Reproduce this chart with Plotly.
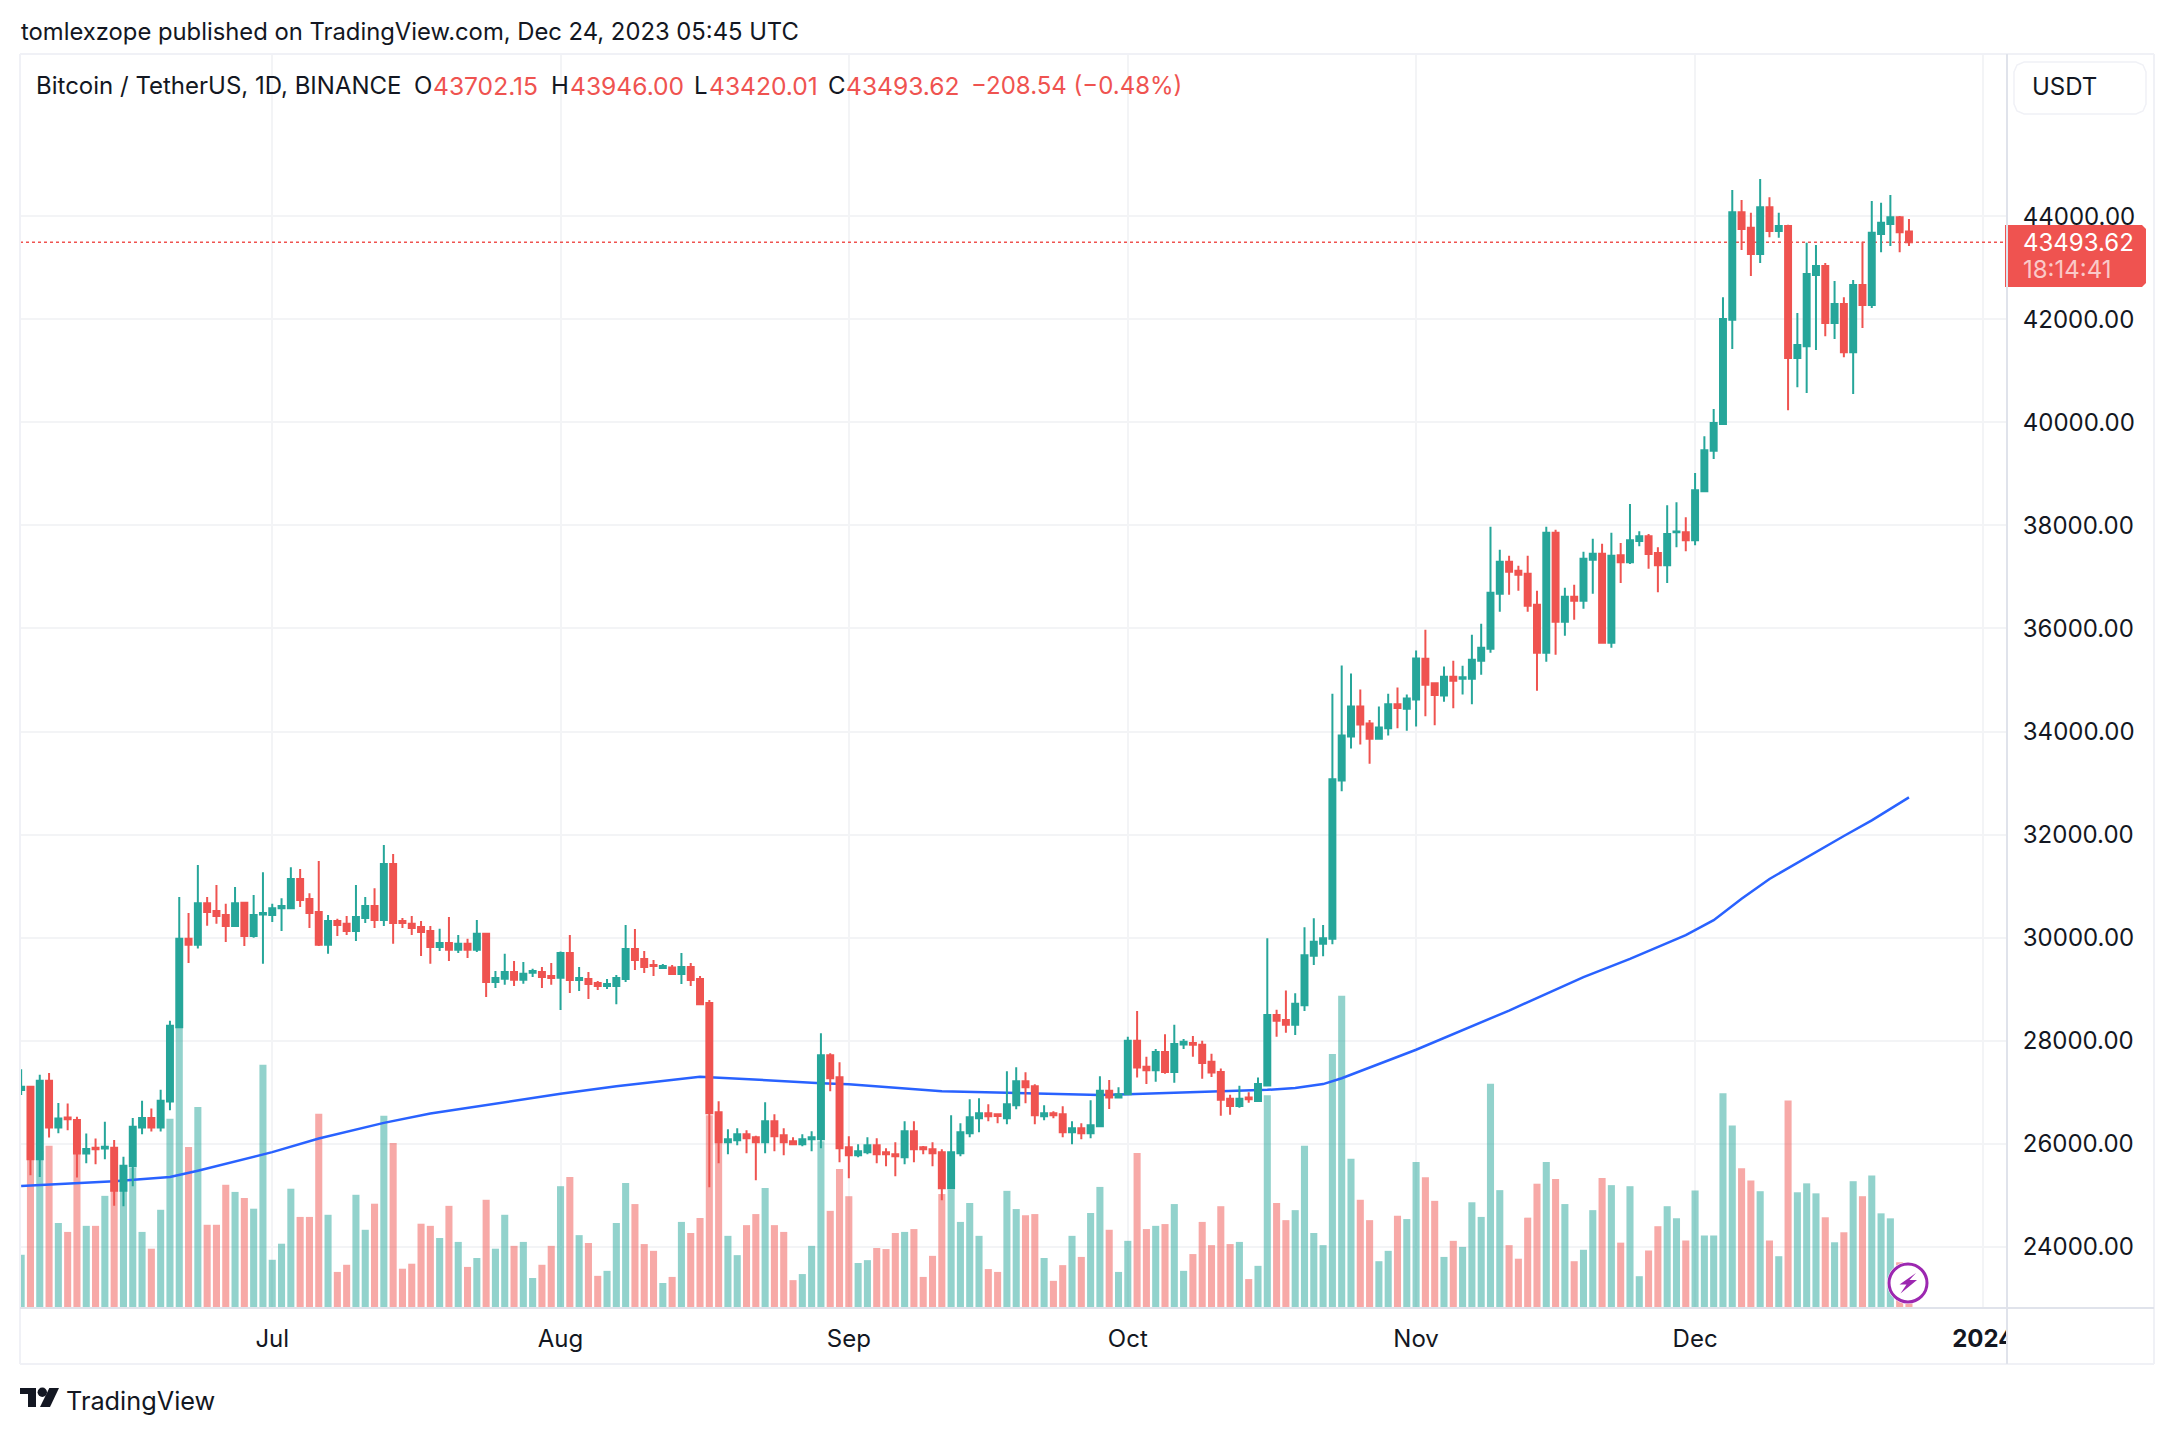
#BTCUSDT daily chart, tradingview look
import pandas as pd
import plotly.graph_objects as go

#values, one line per month (Jun 4 - Dec 24 2023)
open_ = [27045,27108,25703,27225,26319,26512,26464,25814,25924,25910,25924,25094,25565,26319,26505,26319,26824,28263,29979,29862,30671,30519,30443,30228,30678,30035,30450,
         30443,30574,30574,31142,30754,30498,29862,30325,30270,30132,30381,30616,30346,31433,30325,30270,30208,30132,29820,29896,29765,29882,29765,30076,29142,29204,29336,29184,29322,29336,29260,
         29224,29703,29178,29198,29120,29062,29062,29198,29780,29586,29470,29411,29424,29295,29431,29198,28732,26615,26033,26072,26188,26130,26033,26441,26169,26052,25994,26091,26091,27722,27295,
         25936,25781,25839,25975,25839,25800,25742,26247,25936,25897,25839,25140,25820,26208,26499,26596,26577,26499,26751,27217,27120,26538,26596,26577,26227,26305,26208,26344,27032,26902,
         26962,28000,27498,27429,27784,27395,27931,27957,27922,27593,27395,26876,26738,26902,26833,27135,28501,28406,28311,28692,29652,29885,29980,33050,33906,34485,34157,33863,34062,34528,34442,
         34624,35411,34935,34701,35065,35023,35023,35372,35605,36673,37295,37120,37062,36460,35528,37858,36130,36615,36537,37333,37450,35722,37422,37283,37699,37789,37464,37228,37866,37866,
         37713,38663,39446,39966,41990,44077,43772,43266,44174,43709,43806,41248,41477,42857,43030,41928,42295,41359,42663,42274,43654,43848,43980,43702.15]
high = [27447,27130,27343,27377,26796,26782,26526,26201,26104,26429,26077,25751,26505,26838,26685,27052,28388,30789,30478,31412,30789,31024,30658,30983,30692,30831,31273,
        30658,30768,31370,31336,30865,31488,30443,30367,30422,31024,30789,30962,31799,31626,30381,30422,30325,30228,30173,30402,30055,29979,30346,30090,29357,29689,29550,29530,29398,29433,29509,
        29735,30052,29431,29334,29159,29198,29276,30246,30169,29741,29567,29489,29470,29703,29508,29256,28790,26829,26285,26305,26266,26160,26810,26577,26305,26130,26188,26247,28149,27761,27586,
        26150,25994,26130,26111,25916,26033,26441,26441,25960,26033,25897,26557,26402,26868,26887,26771,26596,27412,27489,27392,27159,26751,26635,26732,26441,26402,26849,27315,27239,27101,
        28078,28579,27689,27844,28130,28311,28035,28095,28000,27749,27464,26953,27127,27001,27291,29989,28605,28977,28925,30205,30378,30248,34736,35281,35125,34814,34226,34485,34736,34857,34719,
        35575,35974,34952,35263,35372,35275,35877,36091,37974,37528,37411,37217,37411,36731,37974,37916,36790,36848,37489,37741,37644,37858,37657,38413,37886,37831,37574,38393,38448,38157,
        39016,39730,40257,42427,44507,44312,44063,44721,44368,44063,43830,42122,43481,43439,43092,42739,42427,42760,43501,44292,44257,44409,44000,43946]
low = [26948,25391,25357,26125,26208,26263,25350,25627,25606,25703,24803,24789,25177,26187,26243,26243,26651,28249,29509,29793,30235,30270,29917,30208,29841,30000,29495,
       30305,30132,30561,30595,30187,29841,29689,30035,30055,29938,30284,30187,30228,29882,30187,30055,29647,29495,29744,29550,29703,29606,29723,28851,29024,29087,29066,29107,29239,29024,29087,
       28596,28926,28965,28810,28984,29004,28712,29140,29373,29314,29256,29392,29275,29101,29062,28700,25159,25625,25800,25975,25820,25295,25820,25858,25781,25975,25955,25858,25916,27023,25645,
       25334,25742,25800,25625,25567,25373,25606,25645,25800,25567,24907,25120,25761,26130,26227,26441,26402,26382,26674,26790,26382,26460,26499,26130,25994,26091,26111,26344,26677,26895,
       26945,27291,27161,27204,27360,27187,27844,27689,27265,27299,26547,26565,26703,26798,26816,27118,28078,28156,28112,28579,29470,29643,29876,32842,33672,33750,33378,33845,33923,34062,34018,
       34096,34295,34122,34580,34451,34719,34528,35101,35528,36324,36654,36732,36324,34790,35353,35489,35858,36168,36382,36673,35722,35625,36881,37249,37595,37159,36701,36881,37575,37498,
       37616,38642,39287,39966,41422,43342,42836,43092,43591,43578,40236,40680,40569,41401,41671,41616,41262,40548,41831,42219,43300,43418,43300,43420.01]
close = [27108,25703,27225,26319,26492,26478,25814,25904,25897,25945,25094,25578,26332,26505,26319,26838,28291,29979,29862,30671,30498,30422,30228,30671,30035,30443,30478,
         30574,30616,31142,30734,30478,29862,30325,30249,30132,30402,30616,30346,31433,30284,30284,30187,30111,29820,29896,29765,29882,29765,30076,29142,29218,29336,29184,29301,29357,29239,29218,
         29703,29178,29217,29101,29062,29101,29217,29780,29567,29431,29450,29450,29295,29431,29178,28712,26596,26033,26091,26188,26111,26033,26441,26150,26033,25994,26091,26130,27722,27276,25917,
         25781,25858,25975,25800,25800,25761,26247,25897,25897,25820,25140,25839,26227,26518,26596,26538,26544,26771,27217,27101,26557,26596,26557,26227,26305,26208,26363,27032,26902,26962,
         28000,27481,27429,27784,27395,27939,27983,27922,27568,27386,26859,26738,26876,26867,27161,28501,28389,28311,28718,29660,29920,29989,33076,33923,34485,34139,33863,34079,34528,34459,34641,
         35419,34906,34710,35062,34987,35056,35392,35625,36693,37295,37100,37042,36440,35528,37858,36130,36615,36537,37353,37450,35722,37411,37283,37713,37789,37443,37228,37831,37880,37713,
         38684,39460,39987,42004,44077,43751,43266,44174,43709,43806,41248,41498,42877,43030,41928,42295,41359,42663,42274,43675,43869,43980,43689,43493.62]
#volume in thousand BTC
volume = [14.9,45,44,45.4,23.8,21.3,43.6,23,23,31.4,33.6,33,39.3,21.3,16.6,27.5,53,78.6,45.1,56.3,23.3,23.3,34.5,32.5,30.8,27.8,68.1,
          13.5,18,33.4,25.5,25.5,54.4,26.1,10.1,12.1,31.7,21.9,29.2,53.8,46.2,11,12.4,23.6,23,19.6,28.6,18.5,11.5,14,30.3,16.6,26.1,17.4,18.5,8.4,12.1,17.4,
          34.1,36.7,20.4,18.2,9,10.4,23.8,35,29.1,17.9,16,7,8.7,24.1,21,25.2,54,46.3,20.2,14.8,23.2,26.3,33.6,23.2,21.3,7.8,9.5,17.4,46.7,27.2,38.9,
          31.3,12.6,13.4,16.8,16.5,21,21.3,22.1,8.7,14.6,31.9,33.2,24.1,29.4,20.2,10.9,10.1,32.8,27.7,26,26.3,14,7.6,12,20.2,14.3,26.6,33.9,21.9,10.1,
          18.8,43.4,22.1,23,23.5,29.1,10.4,15.1,24.1,17.6,28.5,17.9,18.5,8.1,11.8,59.6,29.4,24.6,27.4,45.4,21,17.6,71.1,87.4,41.8,30.3,24.6,13.1,16,25.8,24.9,
          40.9,36.6,30,14.3,18.8,17.1,29.6,25.5,62.8,33,17.6,13.8,25.3,34.8,40.9,36.1,29.1,13.1,16.3,27.4,36.4,34.4,18.3,34.1,8.9,16.1,22.9,28.5,25.1,18.9,
          32.9,20.3,20.3,60.1,51.1,39.1,35.7,32.7,18.9,14.5,58.1,32.4,34.9,32.1,25.4,18.4,21.2,35.5,31.3,37.1,26.5,25.1,12.8,3.7]

#the moving average, read at the places where it bends
ma_dates = ['2023-06-04','2023-06-14','2023-06-20','2023-06-23','2023-07-01','2023-07-06','2023-07-13','2023-07-18','2023-08-01','2023-08-07','2023-08-16','2023-08-17','2023-08-29','2023-09-01','2023-09-11','2023-09-18','2023-09-28','2023-10-01','2023-10-11','2023-10-16','2023-10-19','2023-10-22','2023-10-24','2023-11-01','2023-11-11','2023-11-19','2023-11-24','2023-11-27','2023-11-30','2023-12-03','2023-12-06','2023-12-09','2023-12-11','2023-12-15','2023-12-17','2023-12-20','2023-12-24']
ma_values = [25184,25274,25357,25481,25841,26104,26409,26589,26975,27120,27302,27295,27179,27159,27023,26991,26950,26962,27023,27049,27084,27161,27274,27827,28588,29237,29590,29827,30051,30340,30756,31141,31353,31769,31974,32276,32724]

month_ticks = ['2023-07-01','2023-08-01','2023-09-01','2023-10-01','2023-11-01','2023-12-01','2024-01-01']
month_labels = ['Jul','Aug','Sep','Oct','Nov','Dec','<b>2024</b>']
price_ticks = [24000,26000,28000,30000,32000,34000,36000,38000,40000,42000,44000]

dates = pd.date_range('2023-06-04', periods=len(close), freq='D')
x_range = ['2023-06-03 21:00', '2024-01-03 13:00']
price_range = [22817, 47145]
last_price = close[-1]

GREEN = '#26a69a'
RED = '#ef5350'
INK = '#131722'
GRID = '#f3f4f6'
FRAME = '#f0f1f6'
EDGE = '#e0e3eb'
FONT = 'Inter'

#the page sits 8px in from the window corner
W, H = 2158, 1418
L, R, T, B = 20, 2007, 54, 1308

#pixel of the screenshot -> paper coordinates, for the furniture round the chart
def fx(p):
    return (p - L) / (R - L)

def fy(p):
    return (B - p) / (B - T)

def path(points):
    return 'M ' + ' L '.join(f'{fx(a):.5f},{fy(b):.5f}' for a, b in points) + ' Z'

def line_shape(x0, y0, x1, y1, color=FRAME, width=2):
    return dict(type='line', xref='paper', yref='paper', x0=fx(x0), y0=fy(y0), x1=fx(x1), y1=fy(y1),
                line=dict(color=color, width=width), layer='above')

def text(x, y, s, color=INK, size=24, anchor='left'):
    return dict(xref='paper', yref='paper', x=fx(x), y=fy(y), text=s, showarrow=False,
                xanchor=anchor, yanchor='middle', font=dict(family=FONT, size=size, color=color))

fig = go.Figure()

#volume goes on the base axis so that everything else is drawn over it
bar_colors = ['rgba(38,166,154,0.5)' if c >= o else 'rgba(239,83,80,0.5)' for o, c in zip(open_, close)]
fig.add_trace(go.Bar(x=dates, y=volume, marker=dict(color=bar_colors, line_width=0), yaxis='y'))

fig.add_trace(go.Scatter(x=ma_dates, y=ma_values, mode='lines', line=dict(color='#2962ff', width=2.5), yaxis='y2'))
fig.add_trace(go.Scatter(x=x_range, y=[last_price, last_price], mode='lines',
                         line=dict(color=RED, width=1.5, dash='dot'), yaxis='y2'))

fig.add_trace(go.Candlestick(x=dates, open=open_, high=high, low=low, close=close, yaxis='y3',
                             increasing=dict(line=dict(color=GREEN, width=2), fillcolor=GREEN),
                             decreasing=dict(line=dict(color=RED, width=2), fillcolor=RED)))

shapes = [
    #price badge and the cover that cuts off the 2024 label
    dict(type='rect', xref='paper', yref='paper', x0=fx(2008), x1=fx(2153), y0=fy(1309), y1=fy(1363),
         fillcolor='white', line_width=0, layer='above'),
    dict(type='path', xref='paper', yref='paper', layer='above', fillcolor=RED, line_width=0,
         path=path([(2005,225),(2142,225),(2146,229),(2146,283),(2142,287),(2005,287)])),
    line_shape(L, T, 2154, T),
    line_shape(L, T, L, 1364),
    line_shape(L, 1364, 2154, 1364),
    line_shape(2154, T, 2154, 1364),
    line_shape(R, T, R, 1364, EDGE),
    line_shape(L, B, 2154, B, EDGE),
    #USDT button
    dict(type='path', xref='paper', yref='paper', layer='above', fillcolor='white', line=dict(color=FRAME, width=1.5),
         path=path([(2024,62),(2136,62),(2143,65),(2146,72),(2146,104),(2143,111),(2136,114),(2024,114),(2017,111),(2014,104),(2014,72),(2017,65)])),
    #lightning badge
    dict(type='circle', xref='paper', yref='paper', layer='above', fillcolor='white', line_width=0,
         x0=fx(1887), x1=fx(1929), y0=fy(1304), y1=fy(1262)),
    dict(type='circle', xref='paper', yref='paper', layer='above', fillcolor='white', line=dict(color='#9c27b0', width=3),
         x0=fx(1889), x1=fx(1927), y0=fy(1302), y1=fy(1264)),
    dict(type='path', xref='paper', yref='paper', layer='above', fillcolor='#9c27b0', line_width=0,
         path=path([(1916,1273),(1899.5,1284.5),(1906.5,1284.5),(1900.5,1293.5),(1917,1280),(1909.5,1280)])),
    #tradingview logo
    dict(type='path', xref='paper', yref='paper', layer='above', fillcolor=INK, line_width=0,
         path=path([(20,1388),(36,1388),(36,1407),(28,1407),(28,1394),(20,1394)])),
    dict(type='circle', xref='paper', yref='paper', layer='above', fillcolor=INK, line_width=0,
         x0=fx(37.6), x1=fx(47), y0=fy(1397), y1=fy(1387.6)),
    dict(type='path', xref='paper', yref='paper', layer='above', fillcolor=INK, line_width=0,
         path=path([(49.3,1388),(59,1388),(50,1407),(40,1407)])),
]

annotations = [
    text(19, 32, 'tomlexzope published on TradingView.com, Dec 24, 2023 05:45 UTC', size=23.8),
    text(34, 86, 'Bitcoin / TetherUS, 1D, BINANCE'),
    text(412, 86, 'O'), text(431, 86, '43702.15', RED, 24.6),
    text(549, 86, 'H'), text(568, 86, '43946.00', RED, 24.6),
    text(692, 86, 'L'), text(707, 86, '43420.01', RED, 24.6),
    text(826, 86, 'C'), text(844, 86, '43493.62', RED, 24.6),
    text(969, 86, '−208.54 (−0.48%)', RED, 24),
    text(2030, 87, 'USDT'),
    text(2021, 242, '43493.62', 'white'),
    text(2021, 269, '18:14:41', 'rgba(255,255,255,0.7)'),
    text(64, 1400, 'TradingView', size=25.3),
]

price_axis = dict(range=price_range, overlaying='y', side='right', anchor='x', showline=False, zeroline=False)

fig.update_layout(
    width=W, height=H,
    margin=dict(l=L - 8, r=W - (R - 8), t=T - 8, b=H - (B - 8), pad=0),
    paper_bgcolor='white', plot_bgcolor='white',
    showlegend=False, bargap=0.24, boxgap=0.2, boxgroupgap=0.2,
    font=dict(family=FONT, color=INK, size=24),
    xaxis=dict(range=x_range, type='date', tickmode='array', tickvals=month_ticks, ticktext=month_labels,
               showgrid=True, gridcolor=GRID, gridwidth=2, showline=False, zeroline=False,
               ticks='outside', ticklen=9, tickcolor='rgba(0,0,0,0)', rangeslider=dict(visible=False)),
    yaxis=dict(range=[0, 351.1], showgrid=False, showticklabels=False, zeroline=False, showline=False),
    yaxis2=dict(price_axis, tickmode='array', tickvals=price_ticks, ticktext=[f'{v}.00' for v in price_ticks],
                showgrid=True, gridcolor=GRID, gridwidth=2, ticks='outside', ticklen=10, tickcolor='rgba(0,0,0,0)'),
    yaxis3=dict(price_axis, showgrid=False, showticklabels=False),
    shapes=shapes,
    annotations=annotations,
)

fig.write_html("out.html")
